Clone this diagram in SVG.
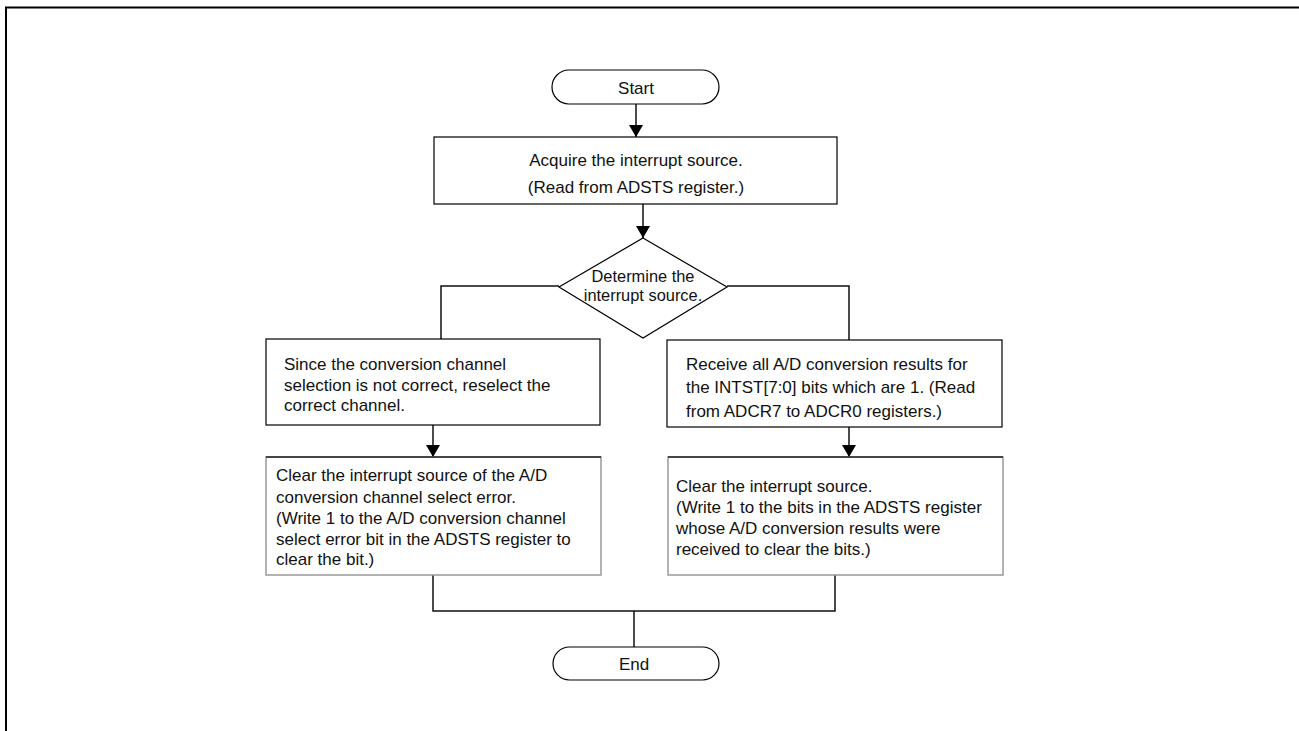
<svg xmlns="http://www.w3.org/2000/svg" width="1299" height="731" viewBox="0 0 1299 731">
<style>
  text { font-family: "Liberation Sans", Arial, sans-serif; font-size: 17px; fill: #111; }
  .c { text-anchor: middle; }
  .box { fill: #fff; stroke: #000; stroke-width: 1.2; }
  .gbox { fill: #fff; stroke: #999; stroke-width: 1.5; }
  .top { stroke: #222; stroke-width: 1.5; fill: none; }
  .ln { fill: none; stroke: #111; stroke-width: 1.5; }
  .d { font-size: 16.4px; }
</style>
<defs>
  <marker id="ah" viewBox="0 0 12 14" refX="12" refY="7" markerWidth="12" markerHeight="14" markerUnits="userSpaceOnUse" orient="auto">
    <path d="M0,0 L12,7 L0,14 Z" fill="#000"/>
  </marker>
</defs>
<rect width="1299" height="731" fill="#fff"/>
<path d="M6,731 V7.5 H1299" fill="none" stroke="#000" stroke-width="2"/>

<g id="connectors">
  <path class="ln" d="M636,104 V137" marker-end="url(#ah)"/>
  <path class="ln" d="M643,204 V238" marker-end="url(#ah)"/>
  <path class="ln" d="M559,286 H441 V339"/>
  <path class="ln" d="M727,286 H849 V340"/>
  <path class="ln" d="M433,425 V457" marker-end="url(#ah)"/>
  <path class="ln" d="M849,427 V457" marker-end="url(#ah)"/>
  <path class="ln" d="M433,575 V611 H835 V575"/>
  <path class="ln" d="M634,611 V647"/>
</g>

<g id="start">
  <rect class="box" x="552" y="70" width="167" height="34" rx="17" ry="17"/>
  <text class="c" x="636" y="94">Start</text>
</g>

<g id="acquire">
  <rect class="box" x="434" y="137" width="403" height="67"/>
  <text class="c" x="636" y="165.5">Acquire the interrupt source.</text>
  <text class="c" x="636" y="192.5">(Read from ADSTS register.)</text>
</g>

<g id="determine">
  <polygon class="box" points="643,238 727,287 643,338 559,287"/>
  <text class="c d" x="643" y="281.5">Determine the</text>
  <text class="c d" x="643" y="300.5">interrupt source.</text>
</g>

<g id="reselect">
  <rect class="box" x="266" y="339" width="334" height="86"/>
  <text x="284" y="370">Since the conversion channel</text>
  <text x="284" y="390.5">selection is not correct, reselect the</text>
  <text x="284" y="411">correct channel.</text>
</g>

<g id="receive">
  <rect class="box" x="667" y="340" width="335" height="87"/>
  <text x="686" y="369.5">Receive all A/D conversion results for</text>
  <text x="686" y="393">the INTST[7:0] bits which are 1. (Read</text>
  <text x="686" y="416.5">from ADCR7 to ADCR0 registers.)</text>
</g>

<g id="clear-error">
  <rect class="gbox" x="266" y="457" width="335" height="118"/>
  <path class="top" d="M266,457 H601"/>
  <text x="276" y="481">Clear the interrupt source of the A/D</text>
  <text x="276" y="502.5">conversion channel select error.</text>
  <text x="276" y="523.5">(Write 1 to the A/D conversion channel</text>
  <text x="276" y="544.5">select error bit in the ADSTS register to</text>
  <text x="276" y="565">clear the bit.)</text>
</g>

<g id="clear-source">
  <rect class="gbox" x="668" y="457" width="335" height="118"/>
  <path class="top" d="M668,457 H1003"/>
  <text x="676" y="491.5">Clear the interrupt source.</text>
  <text x="676" y="513">(Write 1 to the bits in the ADSTS register</text>
  <text x="676" y="534">whose A/D conversion results were</text>
  <text x="676" y="555">received to clear the bits.)</text>
</g>

<g id="end">
  <rect class="box" x="553" y="647" width="166" height="33" rx="16.5" ry="16.5"/>
  <text class="c" x="634" y="670">End</text>
</g>
</svg>
